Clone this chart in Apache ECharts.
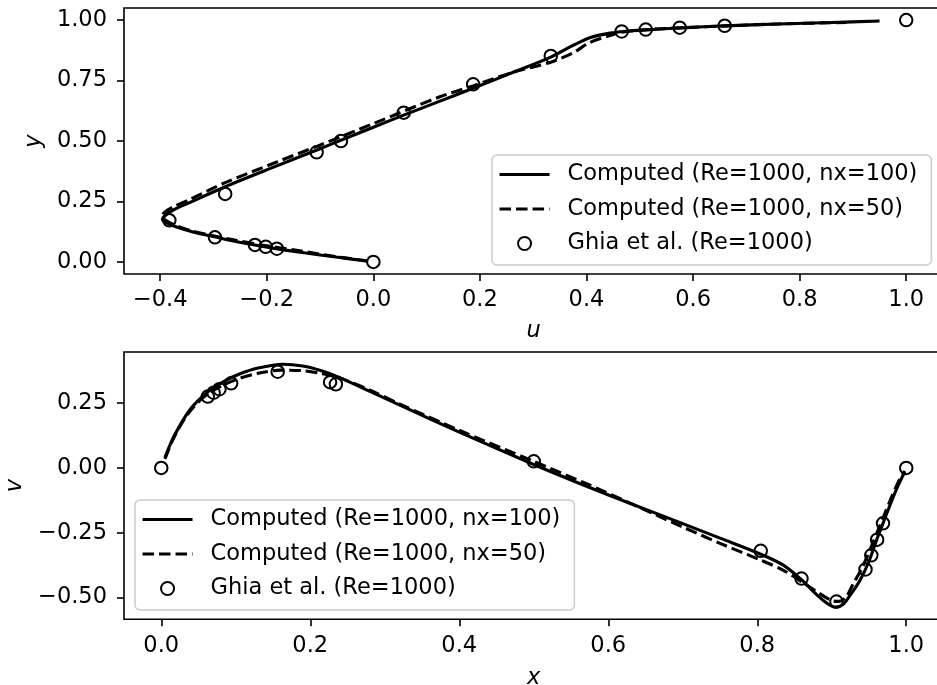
<html>
<head>
    <meta charset="utf-8">
    <title>Cavity centerline velocity</title>
    <script src="https://cdn.jsdelivr.net/npm/echarts@6/dist/echarts.min.js"></script>
    <style>
        body { margin: 0; background: #fff; }
    </style>
</head>
<body>
<div id="main" style="width: 937px;height:685px;"></div>
<script type="text/javascript">
    // series names (legend)
    var nameFine = 'Computed (Re=1000, nx=100)';
    var nameCoarse = 'Computed (Re=1000, nx=50)';
    var nameGhia = 'Ghia et al. (Re=1000)';

    // top: u along vertical centreline
    var ghiaY = [1.0000, 0.9766, 0.9688, 0.9609, 0.9531, 0.8516, 0.7344, 0.6172, 0.5000, 0.4531, 0.2813, 0.1719, 0.1016, 0.0703, 0.0625, 0.0547, 0.0000];
    var ghiaU = [1.0000, 0.6593, 0.5749, 0.5112, 0.4660, 0.3330, 0.1872, 0.0570, -0.0608, -0.1065, -0.2781, -0.3829, -0.2973, -0.2222, -0.2020, -0.1811, 0.0000];

    var fineU = [-0.01, -0.07, -0.13, -0.183, -0.228, -0.27, -0.305, -0.34, -0.368, -0.387, -0.396, -0.392, -0.375, -0.345, -0.278, -0.18, -0.106, -0.061, 0.0, 0.057, 0.125, 0.187, 0.26, 0.333, 0.372, 0.406, 0.444, 0.48, 0.53, 0.58, 0.66, 0.76, 0.86, 0.95];
    var fineY = [0.003, 0.02, 0.038, 0.055, 0.072, 0.09, 0.107, 0.125, 0.143, 0.16, 0.175, 0.19, 0.215, 0.245, 0.311, 0.398, 0.463, 0.503, 0.557, 0.607, 0.665, 0.718, 0.782, 0.847, 0.892, 0.927, 0.946, 0.955, 0.962, 0.968, 0.976, 0.984, 0.990, 0.996];

    var coarseU = [-0.01, -0.08, -0.15, -0.21, -0.26, -0.30, -0.34, -0.37, -0.39, -0.396, -0.392, -0.375, -0.345, -0.278, -0.18, -0.106, 0.0, 0.125, 0.187, 0.26, 0.333, 0.375, 0.406, 0.444, 0.466, 0.51, 0.575, 0.66, 0.76, 0.888];
    var coarseY = [0.004, 0.025, 0.05, 0.07, 0.09, 0.108, 0.128, 0.15, 0.172, 0.19, 0.205, 0.228, 0.258, 0.328, 0.414, 0.478, 0.572, 0.683, 0.728, 0.783, 0.826, 0.865, 0.907, 0.936, 0.950, 0.960, 0.968, 0.976, 0.984, 0.99];

    // bottom: v along horizontal centreline
    var ghiaX = [1.0000, 0.9688, 0.9609, 0.9531, 0.9453, 0.9063, 0.8594, 0.8047, 0.5000, 0.2344, 0.2266, 0.1563, 0.0938, 0.0781, 0.0703, 0.0625, 0.0000];
    var ghiaV = [0.0000, -0.2139, -0.2767, -0.3371, -0.3919, -0.5155, -0.4267, -0.3197, 0.0253, 0.3224, 0.3308, 0.3710, 0.3263, 0.3035, 0.2901, 0.2749, 0.0000];

    var fineX = [0.005, 0.015, 0.026, 0.035, 0.044, 0.055, 0.068, 0.085, 0.105, 0.13, 0.163, 0.19, 0.215, 0.2365, 0.28, 0.321, 0.40, 0.50, 0.57, 0.634, 0.70, 0.75, 0.804, 0.835, 0.86, 0.88, 0.895, 0.905, 0.915, 0.925, 0.938, 0.95, 0.96, 0.968, 0.978, 0.988, 0.998];
    var fineV = [0.04, 0.11, 0.168, 0.21, 0.243, 0.275, 0.305, 0.335, 0.362, 0.385, 0.40, 0.393, 0.375, 0.352, 0.295, 0.241, 0.138, 0.013, -0.07, -0.142, -0.215, -0.271, -0.332, -0.375, -0.433, -0.49, -0.525, -0.537, -0.527, -0.49, -0.433, -0.36, -0.28, -0.22, -0.145, -0.075, -0.015];

    var coarseX = [0.005, 0.015, 0.026, 0.035, 0.044, 0.055, 0.068, 0.085, 0.105, 0.13, 0.16, 0.19, 0.215, 0.2365, 0.28, 0.321, 0.40, 0.50, 0.57, 0.634, 0.70, 0.75, 0.804, 0.835, 0.86, 0.884, 0.90, 0.91, 0.92, 0.929, 0.94, 0.95, 0.96, 0.97, 0.98, 0.99, 0.998];
    var coarseV = [0.035, 0.105, 0.165, 0.205, 0.237, 0.268, 0.295, 0.322, 0.345, 0.365, 0.377, 0.375, 0.364, 0.35, 0.30, 0.245, 0.145, 0.025, -0.06, -0.142, -0.228, -0.291, -0.355, -0.395, -0.44, -0.485, -0.512, -0.515, -0.495, -0.446, -0.39, -0.325, -0.255, -0.185, -0.115, -0.05, -0.012];

    // tick labels
    var topXTicks = [-0.4, -0.2, 0.0, 0.2, 0.4, 0.6, 0.8, 1.0];
    var topYTicks = [0.0, 0.25, 0.5, 0.75, 1.0];
    var botXTicks = [0.0, 0.2, 0.4, 0.6, 0.8, 1.0];
    var botYTicks = [-0.5, -0.25, 0.0, 0.25];

    function zip(a, b) {
        return a.map(function (v, i) { return [v, b[i]]; });
    }
    function fmt(d) {
        return function (v) { return Number(v).toFixed(d).replace('-', '\u2212'); };
    }

    var font = 'DejaVu Sans';
    var fs = 22.5;
    var black = '#000';
    var dash = [11.5, 5];

    function axis(gi, ticks, dec, min, max, name, gap, isY) {
        return {
            type: 'value', gridIndex: gi, min: min, max: max,
            name: name, nameLocation: 'middle', nameGap: gap,
            nameRotate: isY ? 90 : 0,
            nameTextStyle: { fontFamily: font, fontSize: fs, fontStyle: 'italic', color: black },
            axisLine: { show: false, onZero: false },
            splitLine: { show: false },
            axisTick: { show: true, length: 7, customValues: ticks, lineStyle: { color: black, width: 1.6 } },
            axisLabel: { customValues: ticks, formatter: fmt(dec), margin: isY ? 17 : 15,
                fontFamily: font, fontSize: fs, color: black }
        };
    }

    function lineSeries(name, data, gi, dashed) {
        return {
            name: name, type: 'line', data: data, xAxisIndex: gi, yAxisIndex: gi,
            symbol: 'none', smooth: 0.3, z: 2,
            lineStyle: { color: black, width: 3.1, type: dashed ? dash : 'solid' },
            itemStyle: { color: black }
        };
    }

    function ghiaSeries(data, gi) {
        return {
            name: nameGhia, type: 'scatter', data: data, xAxisIndex: gi, yAxisIndex: gi,
            symbol: 'circle', symbolSize: 12.5, z: 3,
            itemStyle: { color: 'rgba(0,0,0,0)', borderColor: black, borderWidth: 2, opacity: 1 }
        };
    }

    function legend(left, top) {
        return {
            orient: 'vertical', left: left, top: top,
            data: [
                { name: nameFine, itemStyle: { opacity: 0 }, lineStyle: { width: 3.1, color: black, type: 'solid' } },
                { name: nameCoarse, itemStyle: { opacity: 0 }, lineStyle: { width: 3.1, color: black, type: dash } },
                { name: nameGhia }
            ],
            itemWidth: 50, itemHeight: 13, itemGap: 11.5,
            padding: [8, 14, 10, 6],
            backgroundColor: 'rgba(255,255,255,0.8)',
            borderColor: '#cccccc', borderWidth: 1.5, borderRadius: 5,
            textStyle: { fontFamily: font, fontSize: fs, lineHeight: 22.5, color: black, padding: [0, 0, 0, 13] }
        };
    }

    var myChart = echarts.init(document.getElementById('main'), null, { renderer: 'canvas' });
    myChart.setOption({
        animation: false,
        backgroundColor: '#fff',
        grid: [
            { left: 124, top: 8, width: 819.5, height: 266, outerBoundsMode: 'none', containLabel: false,
              show: true, borderColor: black, borderWidth: 1.6, backgroundColor: 'transparent' },
            { left: 124, top: 352, width: 819.5, height: 267.3, outerBoundsMode: 'none', containLabel: false,
              show: true, borderColor: black, borderWidth: 1.6, backgroundColor: 'transparent' }
        ],
        xAxis: [
            axis(0, topXTicks, 1, -0.468, 1.07, 'u', 46, false),
            axis(1, botXTicks, 1, -0.05, 1.05, 'x', 47, false)
        ],
        yAxis: [
            axis(0, topYTicks, 2, -0.05, 1.05, 'y', 76, true),
            axis(1, botYTicks, 2, -0.584, 0.447, 'v', 96, true)
        ],
        legend: [legend(492, 155), legend(135, 500)],
        series: [
            lineSeries(nameFine, zip(fineU, fineY), 0, false),
            lineSeries(nameCoarse, zip(coarseU, coarseY), 0, true),
            ghiaSeries(zip(ghiaU, ghiaY), 0),
            lineSeries(nameFine, zip(fineX, fineV), 1, false),
            lineSeries(nameCoarse, zip(coarseX, coarseV), 1, true),
            ghiaSeries(zip(ghiaX, ghiaV), 1)
        ]
    });
</script>
</body>
</html>
